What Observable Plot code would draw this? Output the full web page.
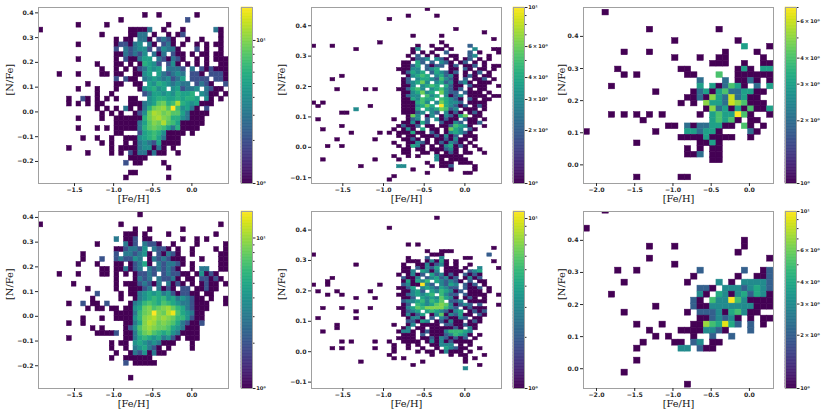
<!DOCTYPE html>
<html><head><meta charset="utf-8">
<script src="https://cdn.jsdelivr.net/npm/d3@7"></script>
<script src="https://cdn.jsdelivr.net/npm/@observablehq/plot@0.6"></script>
<style>
body{margin:0;background:#fff;}
#fig{position:relative;width:830px;height:415px;overflow:hidden;background:#fff;}
#fig svg{position:absolute;overflow:visible;}
</style></head><body><div id="fig"></div>
<script>
// ---- tick labels ----
const xTicksA = [-1.5, -1.0, -0.5, 0.0];
const xTicksB = [-2.0, -1.5, -1.0, -0.5, 0.0];
const yTicks1 = [-0.2, -0.1, 0.0, 0.1, 0.2, 0.3, 0.4];
const yTicks2 = [-0.1, 0.0, 0.1, 0.2, 0.3, 0.4];
const yTicks3 = [0.0, 0.1, 0.2, 0.3, 0.4];
const cbMajorDecade = [1, 10];
const cbMinorDecade = [2, 3, 4, 5, 6, 7, 8, 9];
const cbMajorSub = [1, 2, 3, 4, 6, 10];
const cbMinorSub = [5, 7, 8, 9];

// ---- axis ranges ----
const xDom1 = [-1.96, 0.468], yDom1 = [-0.289, 0.4216];
const xDom2 = [-1.885, 0.45], yDom2 = [-0.119, 0.46];
const xDom3 = [-2.17, 0.315], yDom3 = [-0.058, 0.49];
const xDom4 = [-1.96, 0.468], yDom4 = [-0.292, 0.424];
const xDom5 = [-1.885, 0.45], yDom5 = [-0.121, 0.461];
const xDom6 = [-2.17, 0.315], yDom6 = [-0.0617, 0.49];

// ---- bin edges: [first x edge, x bin width, top y edge, y bin height] ----
const bins1 = [-1.96, 0.0607, 0.400, 0.0199];
const bins2 = [-1.885, 0.0584, 0.459, 0.0110];
const bins3 = [-2.17, 0.0828, 0.483, 0.0177];
const bins4 = [-1.96, 0.0607, 0.420, 0.0200];
const bins5 = [-1.885, 0.0584, 0.4553, 0.0110];
const bins6 = [-2.17, 0.0828, 0.502, 0.0187];

// ---- max counts (colour bar top) ----
const countMax = [17, 10, 7, 15, 11, 10];

// ---- 2D histogram counts, rows from top, '.'=0, 1-9, a=10, b=11 ... ----
const counts1 = [
".......... .......... ..1..1.... ...1......",
".......... .......1.. .......... .2........",
"........1. ....1..... .......1.. ..........",
"1......... .........1 1113..1... 1......31.",
".......... ...1.....1 133.1..1.1 2.......1.",
".......... ......1.11 .331.2321. .1..1...1.",
"........1. ......1221 34.31.231. 1..1.1.11.",
".......... ......2.32 3442.24331 ...2.1..1.",
".......... ......1132 324.313.21 1.1.11.11.",
"........1. ......1.21 1355.32132 1..1.1.111",
".......... ..1...11.1 .16542.241 .1.1.1..11",
".......... ...1..1.1. 123545.333 2.3.212111",
"....1...1. ...11.11.. 1145.53234 3.221.2221",
".......... ......2.21 1.34543423 5.2222.221",
".......... 1.....11.. 11.5465434 33.2321..2",
"........1. ..1...1... .145645.45 2334.3211.",
".......... ..1..1.... ..23554546 556.4311.1",
"......1..2 1.1.1.1..1 1..4566556 5665.41.1.",
"......1.1. 1.11.....1 113458967c 6545111...",
".......... ..1.1.1.31 .1369ab8h7 4531.2....",
".......... ...1.1.1.. 1249cb9a88 531111....",
"........1. ...1..1111 1169bca966 43111.....",
".......... ......1111 1358a9c875 11111.....",
"........1. ..1.1.1111 1368987536 1111......",
".......... ......11.. .256764111 1.1.......",
".........1 ..1..1..11 1456753111 ..........",
".......... ...1.1..1. 1343251111 ..........",
"......1... .....1.111 1344131.1. ..........",
".......... 1....1.1.2 1331311..1 ..........",
".......... .........1 111....... ..........",
".......... ........2. 11....1... ..........",
".......... .......... .......1.. ..........",
".......... .........1 1......... ..........",
".......... ........1. .......1.. .........."
];
const counts2 = [
".......... .......... ....1..... ..........",
"",
".......... .......... 1.....1... ..........",
".......... ......1... .......... ..........",
"",
"",
".......... .......... .......... 1.........",
".......... .......... .......... ......1...",
".......... .......... .1.....1.. ..........",
".......... .......... .......... ........1.",
".......... ....1..... .......1.. ..........",
"1...1..... .......... ..1..1..1. ...2......",
".........1 .......... .13...11.1 ....3...11",
".......... .......... .1.1.1..2. ...2.1...1",
".......... .......... 1.2.1.1..1 1..23..1..",
".......... .......... .1223.321. 1.12.1.1..",
".......... .........1 1.42.2.321 .12.1.1...",
".......... .........1 124.2122.1 2.112.1.11",
".......... ........11 133.234..1 1.21.11.1.",
".......... .........1 2434.24321 2.1.12.1..",
"......1... .......... 13454.3423 1.121.11..",
"....1..... .........1 2.34432532 1.2.112.1.",
".......... .........1 23463.3423 1231.111..",
".......... .........1 13.3454.42 11.2111..1",
".....1.... .1.1....11 2453.34532 12.1.11...",
".......... .........1 134634.632 2.2111.1..",
".......... .........1 233.534.31 23.1111.11",
".......... .........1 143544.543 21.21.11..",
"1.1....... .........1 11453.3643 32.1111...",
".1........ ..1......1 113464.a43 212.121...",
".........3 .........1 114.434652 3.111.1...",
"......11.. .........1 1123.32.31 21.121....",
".......... .......... 163.13.132 146.11....",
".1........ .......1.. 123.2.3121 1.211.1...",
".......... .........1 13142..211 32.112....",
"......1... ........12 112.11.112 5431..1...",
"..1....... .......1.1 31.4.11.16 43.21.....",
"........1. ....1.1.11 1411.21.13 4321......",
".......... ........1. 11.1112131 2.111.....",
".....1.... ...1.....1 121.1.1121 311.1.....",
".......... .......1.. 11321.1213 21.1......",
"...1..1... ........1. 1431.1.134 121.1.....",
".......... .........1 1.11.11123 1.1..1....",
".......... .........1 1..11.1.12 1.11..1...",
".......... .......1.. 1.1...3111 11........",
"..1....... ...1....1. ......31.1 111.......",
".......... .......... ....1..111 .111......",
".......... 1.......33 .....1.112 ....1.....",
".......... .......... .1.......1 ....1.....",
".......... .......... ....1..... ..11......",
".......... .......1.. .......... ..........",
".......... ......1... .......... .........."
];
const counts3 = [
"...1...... .......... ..........",
"",
"",
".......... 1......... .1........",
"",
".......... ....1..... ....1.....",
".......... .......... .....3...1",
"......1... 1......... ..1....1..",
".......... ....1...1. .11.....1.",
".......... .......... 111..1..11",
".....1.... .....11... ....131.33",
"......1.1. ......11.. .4..111111",
".......... ........2. ..2.1121.1",
"....1..... ........3. 312431.2.3",
".......... .1.....123 134223311.",
".......... ......1121 53262311..",
".......... .....1.1.5 332654111.",
".......... .........1 5231314113",
"....1.1.1. 1.1.....1. 3433741..1",
".........1 .......... 34341.11..",
".......... ...11.2122 3311.41.1.",
"1......... .1....3323 31....21..",
".......... .....11113 1111..1...",
"........1. ........11 31........",
".......... ......1.1. 11........",
".......... ......112. 11........",
".......... .......... 11........",
"",
"",
"........1. .....11... .........."
];
const counts4 = [
".......... .......... .1........ ..........",
"",
"1......... .......1.. .......... ........1.",
".......... .......... 1..1...... 1.........",
".......... ........11 1.1....1.. .......1..",
".......... ......3.11 2.11...... 1..1.1....",
".......... ..1.....31 2.3221..1. ...1.....1",
".......... ......1123 324.3221.1 ..1....1.1",
".........1 ......2.33 2341.21321 ..1.....11",
".........1 ...2..2322 43.1323211 1...1...11",
"........1. ..1...11.1 2351.32332 1.1.....11",
".......... ...11.1131 23.3232321 ..1.33..11",
"....1...1. ...11.1.1. 12232.2322 11.14121..",
".......... ......1... 1323.32231 .11.22121.",
".......1.. ......1.11 123213.312 1.1.1211.1",
".......... 1.....1..1 1123.3121. 22.11211..",
".......... ..2....1.1 1345453421 2211.11...",
".......... .1.....1.. 1345656453 43211.1..1",
"......1..2 .11.2....1 3467657654 332111...1",
".......... 1.11.11.11 4589789a86 532111....",
".......... ......1111 3689f98be7 54311.....",
".........1 ...1..1111 469ab9a986 64211.....",
"......1..1 ........11 359ba89875 32112.....",
".......... .1.1....12 479a988754 3111......",
".......... ..11112.11 3689765643 1111......",
"......1... ........11 3565453421 .111......",
".......... .....1.11. 454343111. ..1.......",
".......... .....1..1. 345321.1.. ..1.......",
".......... ......1..1 3241311... ..........",
".......... .....1..11 1111...... ..........",
".......... ........2. 11111..... ..........",
"",
"",
".......... .........1 .......... .........."
];
const counts5 = [
"",
".......... .......... ......1... ..........",
"",
"",
".......... ......1... .......... ..........",
"",
"",
"",
"",
".......... .......... 1.1....... ..........",
".......... .......... .......... ........1.",
".......... .......... ....1..111 ..........",
"1......... .......... .....111.. .......2..",
".......... .......... 1...2..3.. ..11......",
".......... .......... 111.13141. 1.......1.",
".........1 .........1 ..1131231. 1..1......",
".......... .........1 1.21324.11 1.1..3...1",
".......... .........1 13.4313.11 11.234....",
".......... ........1. 1312.42312 1.2121....",
"....1..... .........2 113.234231 2.1312....",
"...1...... .........1 41435.4323 21.2.11...",
"1..1...... ....1....2 311b32.324 3.212.1...",
".......... ........11 24.3432432 2.2112.1..",
".1...1.... ..1......1 1342.43543 12.111.1..",
"...1..1... ........11 234345.532 2.21111..1",
".........1 ...1.....1 12.4343643 1.121.1...",
".......... .........2 33453546.2 23.1111...",
".......... .........1 2.54346763 1232.2...1",
"..1...1... ..1.....11 3465777753 2.12111...",
".........1 .........1 234.454321 34.1212...",
".......... .........1 3124.13613 2411.21...",
".1.......1 .......... 1331.2.321 132.11....",
".......... .......... 22143.1213 11.121....",
".....1.... .......1.. 13.1111.22 11211.....",
".....1.... .........1 3.11.11111 21.31.....",
"..1....... ........13 31.1211135 5543......",
".......... .........1 11.2.11123 5431.1....",
".......... ........11 11.1121321 212.1.....",
"......1.1. ...1..1..1 111.131312 1111......",
".......... .......1.. 1.1..11333 .1.1......",
"....1.1... ...1...1.. 1..1..1.43 211..1....",
".......... .......1.. ..1.11.131 11.1......",
".......... ......1... .....1...1 .11...1...",
".......... .......1.1 .......... ..1.1.....",
".......... 1......... ...1...... ..1.......",
".......... .......... .1........ .....1....",
".......... .......... .......... ..3......."
];
const counts6 = [
"...1...... .......... ..........",
"",
"",
"1......... .......... ..........",
"",
".......... .......... .....1....",
".......... 1...1..... .....1....",
".......... .......... ....1.....",
".......... 1......... .........1",
".......... ....1..... ..........",
".....1..1. ........2. .....2..12",
".......... .......1.. ....1..112",
"......1... ......1... .3.1.33332",
".......... ........22 1.33323432",
"....1..... ........31 .431342431",
".......... .......21. 533a531111",
".......... .1.....211 3333333111",
"......1... ......1.22 23145311..",
".......... ........11 23231.1.11",
"........1. ..1....117 54942.2.1.",
".......... 1....11113 321...2...",
".......... .1.1...1.. 2..2......",
".........1 ....11.23. 11........",
"........1. .....33.21 1.........",
"",
"........1. .......... ..........",
"",
"......1... .......... ..........",
"",
".......... ......1... .........."
];

// ---- helpers ----
function decode(ch) {
  if (ch === ".") return 0;
  if (ch >= "0" && ch <= "9") return +ch;
  return ch.charCodeAt(0) - 87;
}
function cellsOf(rows, bins) {
  const [x0, dx, yT, dy] = bins;
  const out = [];
  rows.forEach((row, r) => {
    const s = row.replace(/ /g, "");
    for (let c = 0; c < s.length; c++) {
      const n = decode(s[c]);
      if (n > 0) out.push({x1: x0 + c * dx, x2: x0 + (c + 1) * dx, y1: yT - (r + 1) * dy, y2: yT - r * dy, n});
    }
  });
  return out;
}
const fmt = d => (d < -1e-9 ? "\u2212" : "") + Math.abs(d).toFixed(1);
const cbFmt = v => v === 1 ? "10\u2070" : v === 10 ? "10\u00b9" : v + "\u2009\u00d7\u200910\u2070";

const SANS = "'DejaVu Sans', sans-serif";
const SERIF = "'DejaVu Serif', serif";
const fig = document.getElementById("fig");

function heatPlot(rows, bins, xDom, yDom, xT, yT, max, lay) {
  const ML = 40, MR = 4, MT = 6, MB = 30, PW = 190;
  const svg = Plot.plot({
    width: ML + PW + MR, height: MT + lay.h + MB,
    marginLeft: ML, marginRight: MR, marginTop: MT, marginBottom: MB,
    style: {fontFamily: SANS, fontSize: "6.2px", fontWeight: "bold", color: "#2a2a2a", background: "none"},
    x: {domain: xDom, label: null},
    y: {domain: yDom, label: null},
    color: {type: "log", scheme: "viridis", domain: [1, max]},
    marks: [
      Plot.rect(cellsOf(rows, bins), {x1: "x1", x2: "x2", y1: "y1", y2: "y2", fill: "n", stroke: "n", strokeWidth: 0.5, clip: true}),
      Plot.frame({stroke: "#a0a0a0", strokeWidth: 1}),
      Plot.axisX({ticks: xT, tickFormat: fmt, tickSize: 3, tickPadding: 1, label: null}),
      Plot.axisY({ticks: yT, tickFormat: fmt, tickSize: 3, tickPadding: 2, label: null}),
      Plot.text(["[Fe/H]"], {text: d => d, frameAnchor: "bottom", dy: 18, fontFamily: SERIF, fontWeight: "normal", fontSize: 9.8, fill: "#111"}),
      Plot.text(["[N/Fe]"], {text: d => d, frameAnchor: "left", dx: -lay.ylab, rotate: -90, fontFamily: SERIF, fontWeight: "normal", fontSize: 9.8, fill: "#111"})
    ]
  });
  svg.style.left = (lay.left - ML) + "px";
  svg.style.top = (lay.top - MT) + "px";
  fig.appendChild(svg);
}

function colorBar(max, major, minor, lay) {
  const MT = 6, MB = 30, CW = 11, MR = 40;
  const n = 120;
  const slices = d3.range(n).map(i => ({lo: Math.pow(max, i / n), hi: Math.pow(max, (i + 1) / n)}));
  const mid = d => Math.sqrt(d.lo * d.hi);
  const svg = Plot.plot({
    width: CW + MR, height: MT + lay.h + MB,
    marginLeft: 0, marginRight: MR, marginTop: MT, marginBottom: MB,
    style: {fontFamily: SANS, fontSize: "5.2px", fontWeight: "bold", color: "#2a2a2a", background: "none"},
    x: {domain: [0, 1], axis: null},
    y: {type: "log", domain: [1, max], label: null},
    color: {type: "log", scheme: "viridis", domain: [1, max]},
    marks: [
      Plot.rect(slices, {x1: 0, x2: 1, y1: "lo", y2: "hi", fill: mid, stroke: mid, strokeWidth: 0.6}),
      Plot.frame({stroke: "#a0a0a0"}),
      Plot.axisY({anchor: "right", ticks: major.filter(v => v <= max * 1.0001), tickFormat: cbFmt, tickSize: 2.5, tickPadding: 1.2, label: null}),
      Plot.axisY({anchor: "right", ticks: minor.filter(v => v <= max), tickFormat: () => "", tickSize: 1.5, label: null})
    ]
  });
  svg.style.left = lay.cb + "px";
  svg.style.top = (lay.top - MT) + "px";
  fig.appendChild(svg);
}

const lay = [
  {left: 38, top: 7, h: 176, cb: 241, ylab: 29},
  {left: 311, top: 7, h: 176, cb: 513, ylab: 30},
  {left: 583, top: 7, h: 176, cb: 785, ylab: 22},
  {left: 38, top: 211, h: 177, cb: 241, ylab: 29},
  {left: 311, top: 211, h: 177, cb: 513, ylab: 30},
  {left: 583, top: 211, h: 177, cb: 785, ylab: 22}
];

heatPlot(counts1, bins1, xDom1, yDom1, xTicksA, yTicks1, countMax[0], lay[0]);
heatPlot(counts2, bins2, xDom2, yDom2, xTicksA, yTicks2, countMax[1], lay[1]);
heatPlot(counts3, bins3, xDom3, yDom3, xTicksB, yTicks3, countMax[2], lay[2]);
heatPlot(counts4, bins4, xDom4, yDom4, xTicksA, yTicks1, countMax[3], lay[3]);
heatPlot(counts5, bins5, xDom5, yDom5, xTicksA, yTicks2, countMax[4], lay[4]);
heatPlot(counts6, bins6, xDom6, yDom6, xTicksB, yTicks3, countMax[5], lay[5]);

colorBar(countMax[0], cbMajorDecade, cbMinorDecade, lay[0]);
colorBar(countMax[1], cbMajorSub, cbMinorSub, lay[1]);
colorBar(countMax[2], cbMajorSub, cbMinorSub, lay[2]);
colorBar(countMax[3], cbMajorDecade, cbMinorDecade, lay[3]);
colorBar(countMax[4], cbMajorDecade, cbMinorDecade, lay[4]);
colorBar(countMax[5], cbMajorSub, cbMinorSub, lay[5]);
</script>
</body></html>
